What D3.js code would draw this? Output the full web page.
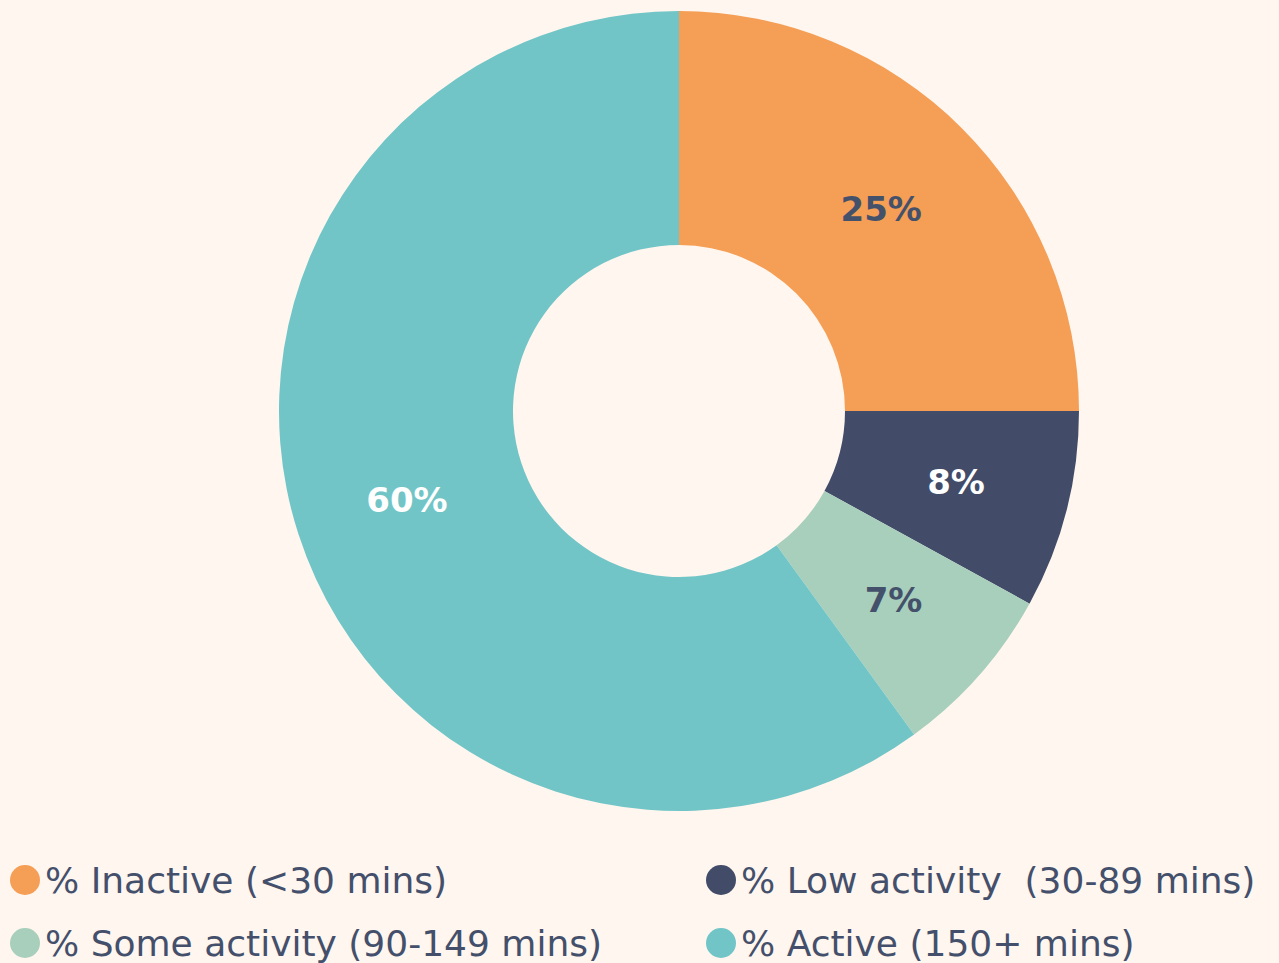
<!DOCTYPE html>
<html>
<head>
<meta charset="utf-8">
<script src="https://cdn.jsdelivr.net/npm/d3@7"></script>
<style>
  html, body { margin: 0; padding: 0; background: #fff6ef; }
  svg { display: block; }
</style>
</head>
<body>
<svg id="chart" width="1279" height="963"></svg>
<script>
// chart data
const categories = ['% Inactive (<30 mins)', '% Low activity  (30-89 mins)', '% Some activity (90-149 mins)', '% Active (150+ mins)'];
const values = [25, 8, 7, 60];
const labels = ['25%', '8%', '7%', '60%'];
const colors = ['#f59e55', '#424c69', '#a8cfbc', '#71c5c7'];
const labelColors = ['#44516b', '#ffffff', '#44516b', '#ffffff'];

const width = 1279;
const height = 963;
const cx = 679;
const cy = 411;
const outerR = 400;
const innerR = 166;
const fontFamily = "'DejaVu Sans', sans-serif";

const svg = d3.select('#chart');

const data = categories.map((c, i) => ({ name: c, value: values[i], label: labels[i], color: colors[i], labelColor: labelColors[i] }));

const pie = d3.pie().value((d) => d.value).sort(null);
const arc = d3.arc().innerRadius(innerR).outerRadius(outerR);
const labelArc = d3.arc().innerRadius(286).outerRadius(286);

const g = svg.append('g').attr('transform', `translate(${cx},${cy})`);

const arcs = pie(data);

g.selectAll('path.slice')
  .data(arcs)
  .join('path')
  .attr('class', 'slice')
  .attr('d', arc)
  .attr('fill', (d) => d.data.color);

g.selectAll('text.lbl')
  .data(arcs)
  .join('text')
  .attr('class', 'lbl')
  .attr('transform', (d) => `translate(${labelArc.centroid(d)})`)
  .attr('text-anchor', 'middle')
  .attr('dy', '0.36em')
  .attr('fill', (d) => d.data.labelColor)
  .style('font', `bold 34px ${fontFamily}`)
  .text((d) => d.data.label);

// legend, two columns
const legendX = d3.scaleOrdinal().domain([0, 1]).range([25, 721]);
const legendY = d3.scaleOrdinal().domain([0, 1]).range([880, 943]);

const legend = svg.append('g')
  .selectAll('g')
  .data(data)
  .join('g')
  .attr('transform', (d, i) => `translate(${legendX(i % 2)},${legendY(Math.floor(i / 2))})`);

legend.append('circle')
  .attr('r', 15)
  .attr('fill', (d) => d.color);

legend.append('text')
  .attr('x', 20)
  .attr('dy', '0.36em')
  .attr('fill', '#44506b')
  .style('font', `36px ${fontFamily}`)
  .style('white-space', 'pre')
  .text((d) => d.name);
</script>
</body>
</html>
